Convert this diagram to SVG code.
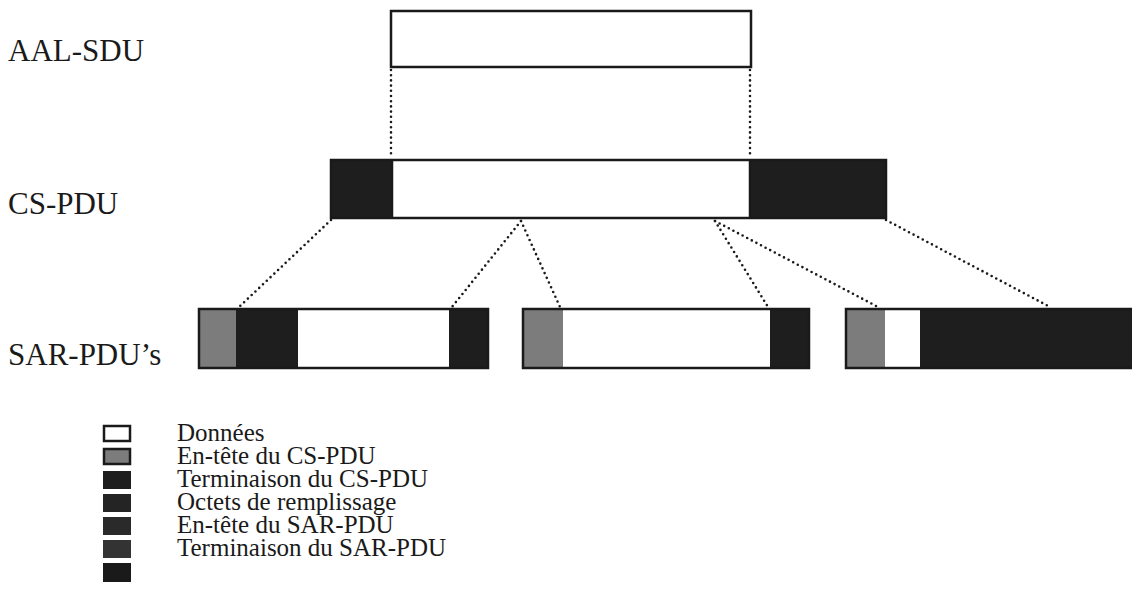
<svg xmlns="http://www.w3.org/2000/svg" width="1132" height="609" viewBox="0 0 1132 609">
<defs>
<style>
.lbl{font-family:"Liberation Serif","Times New Roman",serif;font-size:31px;fill:#1a1a1a}
.leg{font-family:"Liberation Serif","Times New Roman",serif;font-size:25px;fill:#1a1a1a}
.box{stroke:#1a1a1a;stroke-width:2.5}
.w{fill:#ffffff}
.g{fill:#7c7c7c}
.k{fill:#1e1e1e}
.dot{fill:none;stroke:#1a1a1a;stroke-width:2.6;stroke-linecap:round;stroke-dasharray:0 5.2}
</style>
</defs>
<rect width="1132" height="609" fill="#ffffff"/>

<g id="label-aal"><text class="lbl" x="8" y="61">AAL-SDU</text></g>
<g id="label-cs"><text class="lbl" x="8" y="214">CS-PDU</text></g>
<g id="label-sar"><text class="lbl" x="8" y="365">SAR-PDU’s</text></g>

<g id="aal-sdu">
<rect class="box w" x="391" y="11" width="360" height="56"/>
</g>

<g id="cs-pdu">
<rect class="k" x="331" y="160" width="61" height="58"/>
<rect class="w" x="392" y="160" width="358" height="58"/>
<rect class="k" x="750" y="160" width="136" height="58"/>
<rect class="box" fill="none" x="331" y="160" width="555" height="58"/>
<line class="box" x1="392" y1="160" x2="392" y2="218"/>
<line class="box" x1="750" y1="160" x2="750" y2="218"/>
</g>

<g id="sar-pdu-1">
<rect class="g" x="199" y="309" width="37" height="59"/>
<rect class="k" x="236" y="309" width="62" height="59"/>
<rect class="w" x="298" y="309" width="151" height="59"/>
<rect class="k" x="449" y="309" width="39" height="59"/>
<rect class="box" fill="none" x="199" y="309" width="289" height="59"/>
</g>

<g id="sar-pdu-2">
<rect class="g" x="523" y="309" width="40" height="59"/>
<rect class="w" x="563" y="309" width="207" height="59"/>
<rect class="k" x="770" y="309" width="39" height="59"/>
<rect class="box" fill="none" x="523" y="309" width="286" height="59"/>
</g>

<g id="sar-pdu-3">
<rect class="g" x="846" y="309" width="39" height="59"/>
<rect class="w" x="885" y="309" width="35" height="59"/>
<rect class="k" x="920" y="309" width="212" height="59"/>
<rect class="box" fill="none" x="846" y="309" width="290" height="59"/>
</g>

<g id="connectors">
<line class="dot" x1="391" y1="70" x2="391" y2="158"/>
<line class="dot" x1="750" y1="70" x2="750" y2="158"/>
<line class="dot" x1="331" y1="220" x2="239" y2="307"/>
<line class="dot" x1="521" y1="221" x2="452" y2="307"/>
<line class="dot" x1="521" y1="221" x2="560" y2="307"/>
<line class="dot" x1="715" y1="221" x2="768" y2="307"/>
<line class="dot" x1="715" y1="221" x2="878" y2="307"/>
<line class="dot" x1="886" y1="220" x2="1050" y2="307"/>
</g>

<g id="legend">
<rect class="box w" x="104" y="426" width="26" height="15"/>
<rect class="box g" x="104" y="449" width="26" height="15"/>
<rect class="k" x="103" y="471" width="28" height="18"/>
<rect x="103" y="494" width="28" height="18" fill="#242424"/>
<rect x="103" y="517" width="28" height="18" fill="#2a2a2a"/>
<rect x="103" y="540" width="28" height="18" fill="#333333"/>
<rect x="103" y="563" width="28" height="19" fill="#1a1a1a"/>
<text class="leg" x="177" y="441">Données</text>
<text class="leg" x="177" y="464">En-tête du CS-PDU</text>
<text class="leg" x="177" y="487">Terminaison du CS-PDU</text>
<text class="leg" x="177" y="510">Octets de remplissage</text>
<text class="leg" x="177" y="533">En-tête du SAR-PDU</text>
<text class="leg" x="177" y="556">Terminaison du SAR-PDU</text>
</g>
</svg>
